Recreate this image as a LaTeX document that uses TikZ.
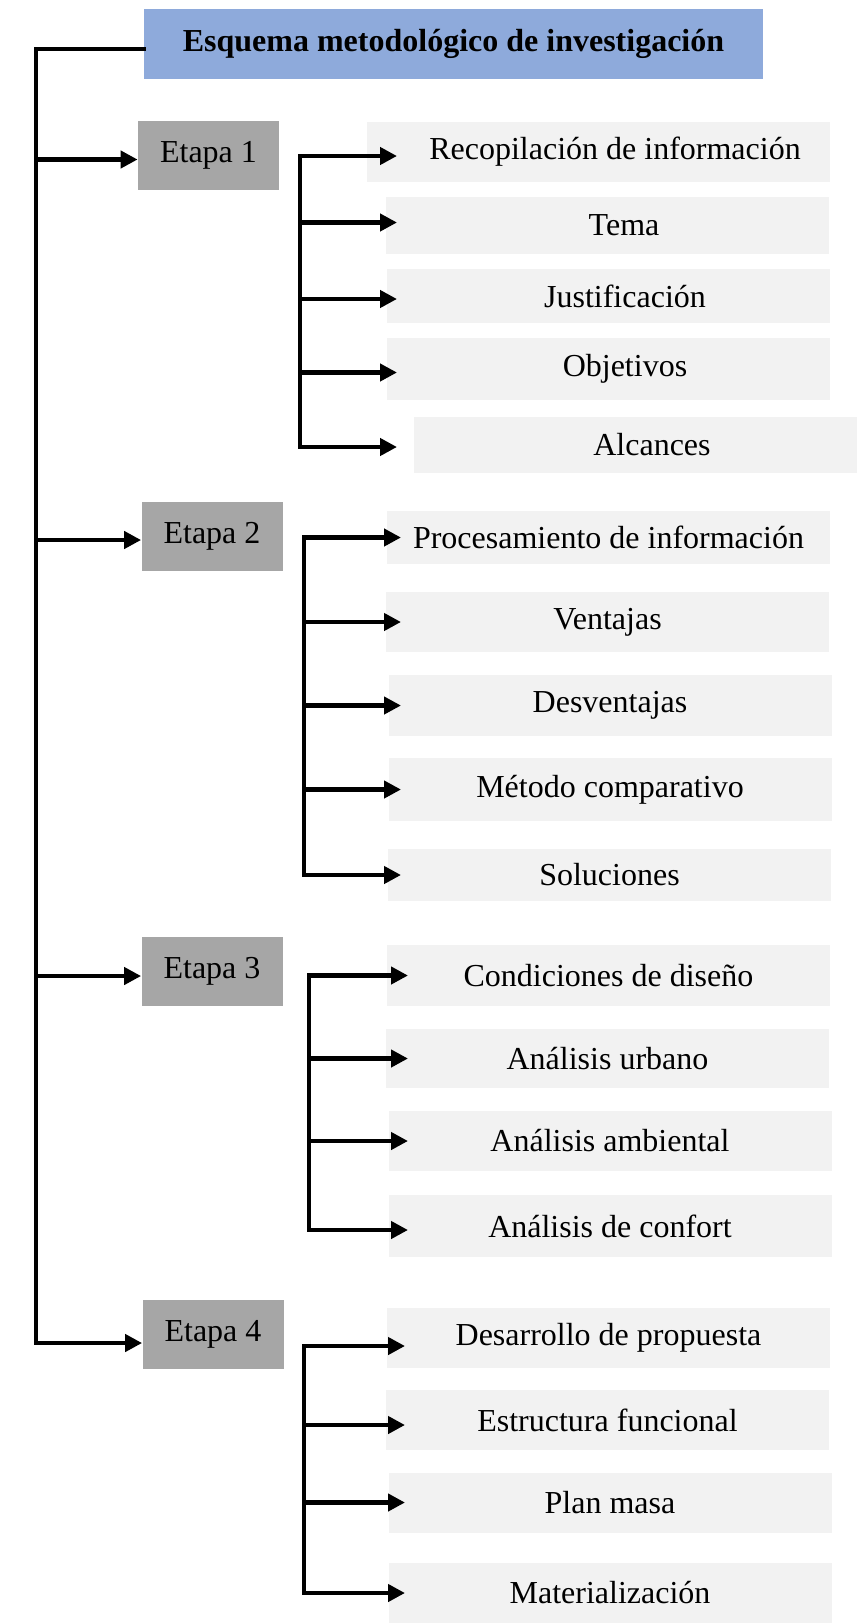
\documentclass[tikz,border=0pt]{standalone}
\usepackage{fontspec}
\setmainfont{Liberation Serif}
\usetikzlibrary{arrows.meta,calc}
\definecolor{headblue}{HTML}{8EAADB}
\definecolor{stagegray}{HTML}{A6A6A6}
\definecolor{soft}{HTML}{F2F2F2}

\begin{document}
\begin{tikzpicture}[
    x=0.5pt, y=-0.5pt,
    box/.style={inner sep=0pt, text=black, font=\fontsize{16}{19}\selectfont},
    head/.style={box, fill=headblue, font=\fontsize{16}{19}\selectfont\bfseries,
                 minimum width=309.5pt, minimum height=35pt},
    stagebox/.style={box, fill=stagegray, minimum width=70.5pt, minimum height=34.5pt},
    item/.style={box, fill=soft, minimum width=221.5pt, minimum height=30pt},
    pushed/.style={item, execute at begin node={\hspace*{16.5pt}}},
    rail/.style={draw=black, line width=2.2pt, line cap=rect},
    flow/.style={draw=black, line width=2.2pt, -{Triangle[length=8.5pt,width=8.5pt]}},
  ]
  \useasboundingbox (0,0) rectangle (861,1623);

  \node[head] (title) at (453.5,44) {Esquema metodológico de investigación};

  \node[stagebox] (e1) at (208.5,155.5) {Etapa 1};
  \node[stagebox] (e2) at (212,536)     {Etapa 2};
  \node[stagebox] (e3) at (212,971.5)   {Etapa 3};
  \node[stagebox] (e4) at (213,1334)    {Etapa 4};

  % etapa 1
  \node[pushed, minimum width=231.5pt] (r1) at (598.5,152) {Recopilación de información};
  \node[pushed, minimum height=28.5pt] (r2) at (607.5,225.5) {Tema};
  \node[pushed, minimum height=27pt]   (r3) at (608.5,296)   {Justificación};
  \node[pushed, minimum height=31pt]   (r4) at (608.5,369)   {Objetivos};
  \node[pushed, minimum height=28pt]   (r5) at (635.5,445)   {Alcances};

  % etapa 2
  \node[item, minimum height=26.5pt] (p1) at (608.5,537.5) {Procesamiento de información};
  \node[item]                        (p2) at (607.5,622)   {Ventajas};
  \node[item, minimum height=30.5pt] (p3) at (610,705.5)   {Desventajas};
  \node[item, minimum height=31.5pt] (p4) at (610,789.5)   {Método comparativo};
  \node[item, minimum height=26pt]   (p5) at (609.5,875)   {Soluciones};

  % etapa 3
  \node[item, minimum height=30.5pt] (c1) at (608.5,975.5) {Condiciones de diseño};
  \node[item, minimum height=29.5pt] (c2) at (607.5,1058.5) {Análisis urbano};
  \node[item]                        (c3) at (610,1141)    {Análisis ambiental};
  \node[item, minimum height=31pt]   (c4) at (610,1226)    {Análisis de confort};

  % etapa 4
  \node[item] (d1) at (608.5,1338) {Desarrollo de propuesta};
  \node[item] (d2) at (607.5,1420) {Estructura funcional};
  \node[item] (d3) at (610,1502.5) {Plan masa};
  \node[item] (d4) at (610,1593)   {Materialización};

  % main spine from the title down to the last etapa (arrows sit a little below the box centres)
  \coordinate (spine) at (36,49);
  \draw[rail] (title.west |- spine) -- (spine) -- ($(spine |- e4.west)+(0,9)$);
  \foreach \e/\dy in {e1/4,e2/4,e3/4.5,e4/9}
    \draw[flow] ($(spine |- \e.west)+(0,\dy)$) -- ($(\e.west)+(0,\dy)$);

  % sub spines: x of the rail, x where the tips stop
  \coordinate (s1) at (300,0);   \coordinate (t1) at (397,0);
  \coordinate (s2) at (304,0);   \coordinate (t2) at (401,0);
  \coordinate (s3) at (309,0);   \coordinate (t3) at (408,0);
  \coordinate (s4) at (304,0);   \coordinate (t4) at (405,0);

  \draw[rail] ($(s1 |- r1)+(0,4)$) -- ($(s1 |- r5)+(0,2)$);
  \foreach \n/\dy in {r1/4,r2/-3,r3/3,r4/3.5,r5/2}
    \draw[flow] ($(s1 |- \n)+(0,\dy)$) -- ($(t1 |- \n)+(0,\dy)$);

  \draw[rail] (s2 |- p1) -- (s2 |- p5);
  \foreach \n in {p1,p2,p3,p4,p5}
    \draw[flow] (s2 |- \n) -- (t2 |- \n);

  \draw[rail] (s3 |- c1) -- ($(s3 |- c4)+(0,4)$);
  \foreach \n/\dy in {c1/0,c2/0,c3/0,c4/4}
    \draw[flow] ($(s3 |- \n)+(0,\dy)$) -- ($(t3 |- \n)+(0,\dy)$);

  \draw[rail] ($(s4 |- d1)+(0,8)$) -- (s4 |- d4);
  \foreach \n/\dy in {d1/8,d2/5,d3/0,d4/0}
    \draw[flow] ($(s4 |- \n)+(0,\dy)$) -- ($(t4 |- \n)+(0,\dy)$);
\end{tikzpicture}
\end{document}
